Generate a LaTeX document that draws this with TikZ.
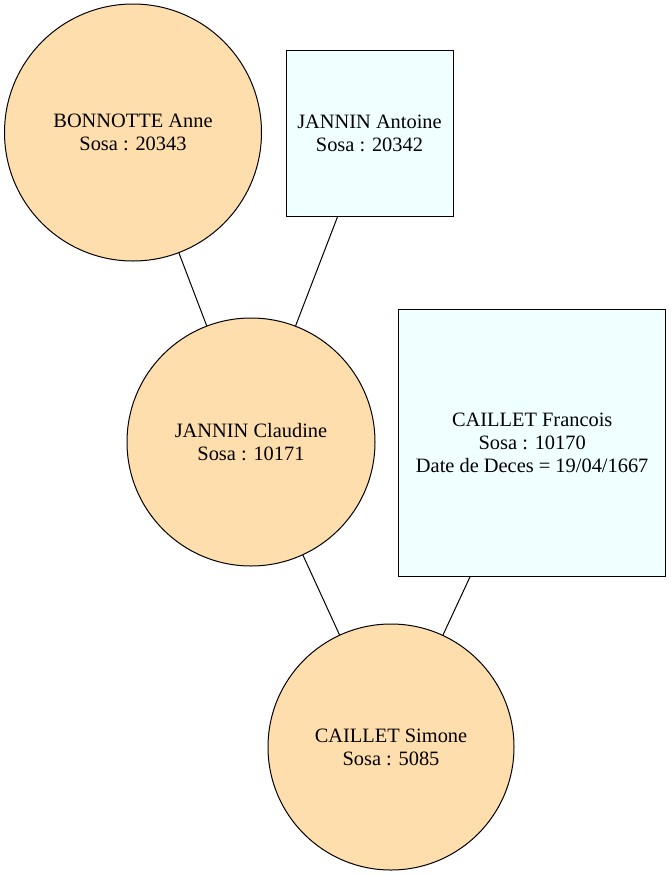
\documentclass[tikz,border=0pt]{standalone}
\usepackage{fontspec}
\setmainfont{Liberation Serif}
\definecolor{navajo}{HTML}{FFDEAD}
\definecolor{azur}{HTML}{F0FFFF}
\begin{document}
\begin{tikzpicture}[x=0.75pt,y=-0.75pt,
    person/.style={draw,line width=0.75pt,inner sep=0pt,align=center,
      font=\fontsize{15.3}{17.25}\selectfont},
    woman/.style={person,circle,fill=navajo},
    man/.style={person,rectangle,fill=azur}]

    % Frame
    \useasboundingbox (0,0) rectangle (671,875);

    % Persons
    \node[woman,minimum size=257*0.75pt] (anne) at (133,132.5) {BONNOTTE Anne\\Sosa : 20343};
    \node[man,minimum width=167*0.75pt,minimum height=166.5*0.75pt] (antoine) at (369.5,133.3) {JANNIN Antoine\\Sosa : 20342};
    \node[woman,minimum size=248*0.75pt] (claudine) at (251,442) {JANNIN Claudine\\Sosa : 10171};
    \node[man,minimum width=267*0.75pt,minimum height=267*0.75pt] (francois) at (532.2,442.7) {CAILLET Francois\\Sosa : 10170\\Date de Deces = 19/04/1667};
    \node[woman,minimum size=246*0.75pt] (simone) at (391,747) {CAILLET Simone\\Sosa : 5085};

    % Links
    \draw[line width=0.75pt] (anne) -- (claudine);
    \draw[line width=0.75pt] (antoine) -- (claudine);
    \draw[line width=0.75pt] (claudine) -- (simone);
    \draw[line width=0.75pt] (francois) -- (simone);

\end{tikzpicture}
\end{document}
